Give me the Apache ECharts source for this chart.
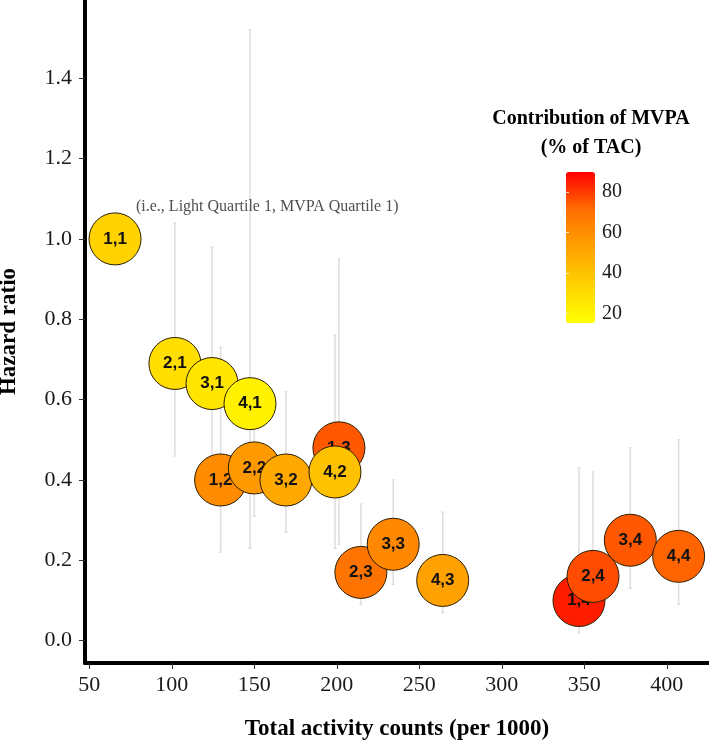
<!DOCTYPE html>
<html>
<head>
<meta charset="utf-8">
<script src="https://cdn.jsdelivr.net/npm/echarts@6/dist/echarts.min.js"></script>
<style>
html, body { margin: 0; padding: 0; background: #fff; }
#chart { width: 709px; height: 742px; }
</style>
</head>
<body>
<div id="chart"></div>
<script>
"use strict";

// drawing order: light quartile first, then MVPA quartile (later ones sit on top)
var labels = ['1,1', '1,2', '1,3', '1,4', '2,1', '2,2', '2,3', '2,4',
              '3,1', '3,2', '3,3', '3,4', '4,1', '4,2', '4,3', '4,4'];
var tac = [65.6, 129.6, 201.3, 346.8, 101.9, 150.0, 214.6, 355.3,
           124.4, 169.2, 234.2, 377.9, 147.4, 198.9, 264.2, 407.2];
var hazard = [1.00, 0.40, 0.48, 0.10, 0.69, 0.43, 0.17, 0.16,
              0.64, 0.40, 0.24, 0.25, 0.59, 0.42, 0.15, 0.21];
var lower = [null, 0.22, 0.24, 0.02, 0.46, 0.31, 0.09, 0.06,
             0.42, 0.27, 0.14, 0.13, 0.23, 0.23, 0.07, 0.09];
var upper = [null, 0.73, 0.95, 0.43, 1.04, 0.60, 0.34, 0.42,
             0.98, 0.62, 0.40, 0.48, 1.52, 0.76, 0.32, 0.50];
var mvpa = [34, 61, 75, 85, 29, 56, 69, 77,
            26, 50, 62, 75, 21, 40, 53, 73];

var xTicks = [50, 100, 150, 200, 250, 300, 350, 400];
var yTicks = [0, 0.2, 0.4, 0.6, 0.8, 1.0, 1.2, 1.4];
var colorTicks = [20, 40, 60, 80];
var colorRange = [15.2, 90];

var noteText = '(i.e., Light Quartile 1, MVPA Quartile 1)';
var notePos = [78.3, 1.08];

var serif = '"Liberation Serif", "Times New Roman", serif';
var bubbleSize = 52;

var chart = echarts.init(document.getElementById('chart'));

var bubbleData = [];
var errData = [];
for (var i = 0; i < labels.length; i++) {
    bubbleData.push([tac[i], hazard[i], mvpa[i]]);
    if (lower[i] !== null) {
        errData.push([tac[i], lower[i], upper[i]]);
    }
}

function renderErrorBar(params, api) {
    var lo = api.coord([api.value(0), api.value(1)]);
    var hi = api.coord([api.value(0), api.value(2)]);
    var st = { stroke: '#dedede', lineWidth: 1.5 };
    return {
        type: 'group',
        children: [
            { type: 'line', shape: { x1: lo[0], y1: lo[1], x2: hi[0], y2: hi[1] }, style: st },
            { type: 'line', shape: { x1: lo[0] - 1.5, y1: lo[1], x2: lo[0] + 1.5, y2: lo[1] }, style: st },
            { type: 'line', shape: { x1: hi[0] - 1.5, y1: hi[1], x2: hi[0] + 1.5, y2: hi[1] }, style: st }
        ]
    };
}

function renderBubble(params, api) {
    var p = api.coord([api.value(0), api.value(1)]);
    var k = params.dataIndex;
    return {
        type: 'group',
        children: [{
            type: 'circle',
            z2: k * 2,
            shape: { cx: p[0], cy: p[1], r: bubbleSize / 2 },
            style: { fill: api.visual('color'), stroke: '#2b1d00', lineWidth: 1 }
        }, {
            type: 'text',
            z2: k * 2 + 1,
            x: p[0],
            y: p[1],
            style: {
                text: labels[k],
                font: 'bold 17px "Liberation Sans", Arial, sans-serif',
                fill: '#111',
                align: 'center',
                verticalAlign: 'middle'
            }
        }]
    };
}

var option = {
    backgroundColor: '#fff',
    animation: false,
    grid: [
        { left: 85, right: 0, top: 0, bottom: 79, outerBoundsMode: 'none' },
        { left: 566, top: 172, width: 29, height: 151, outerBoundsMode: 'none' }
    ],
    xAxis: [{
        type: 'value',
        min: 47.4,
        max: 425.6,
        name: 'Total activity counts (per 1000)',
        nameLocation: 'middle',
        nameGap: 55,
        nameTextStyle: { fontFamily: serif, fontWeight: 'bold', fontSize: 23, color: '#000' },
        axisLine: { onZero: false, lineStyle: { color: '#000', width: 4 } },
        axisTick: { show: true, length: 6, customValues: xTicks, lineStyle: { color: '#333' } },
        axisLabel: { customValues: xTicks, fontFamily: serif, fontSize: 22, color: '#1a1a1a', margin: 11 },
        splitLine: { show: false }
    }, {
        gridIndex: 1,
        type: 'value',
        show: false
    }],
    yAxis: [{
        type: 'value',
        min: -0.0555,
        max: 1.5946,
        name: 'Hazard ratio',
        nameLocation: 'middle',
        nameGap: 64,
        nameTextStyle: { fontFamily: serif, fontWeight: 'bold', fontSize: 23, color: '#000' },
        axisLine: { onZero: false, lineStyle: { color: '#000', width: 4 } },
        axisTick: { show: true, length: 6, customValues: yTicks, lineStyle: { color: '#333' } },
        axisLabel: {
            customValues: yTicks,
            fontFamily: serif, fontSize: 22, color: '#1a1a1a', margin: 13,
            formatter: function (v) { return v.toFixed(1); }
        },
        splitLine: { show: false }
    }, {
        gridIndex: 1,
        type: 'value',
        position: 'right',
        offset: -3,
        z: 10,
        min: colorRange[0],
        max: colorRange[1],
        axisLine: { show: false },
        axisTick: {
            show: true, inside: true, length: 23, customValues: colorTicks,
            lineStyle: { color: 'rgba(255,255,255,0.75)', width: 1 }
        },
        axisLabel: { customValues: colorTicks, fontFamily: serif, fontSize: 20, color: '#1a1a1a', margin: 10 },
        splitLine: { show: false }
    }],
    visualMap: {
        type: 'continuous',
        seriesIndex: 1,
        dimension: 2,
        min: colorRange[0],
        max: colorRange[1],
        calculable: false,
        left: 566,
        top: 172,
        padding: 0,
        itemWidth: 29,
        itemHeight: 151,
        text: null,
        inRange: { color: ['#ffff00', '#ffd200', '#ffa200', '#ff6e00', '#ff0000'] }
    },
    graphic: [{
        type: 'text',
        x: 591,
        y: 104,
        style: {
            text: 'Contribution of MVPA\n(% of TAC)',
            font: 'bold 20px ' + serif,
            fill: '#000',
            align: 'center',
            verticalAlign: 'top',
            lineHeight: 29
        }
    }],
    series: [{
        type: 'custom',
        name: 'ci',
        renderItem: renderErrorBar,
        encode: { x: 0, y: [1, 2] },
        data: errData,
        z: 1
    }, {
        type: 'custom',
        name: 'bubbles',
        renderItem: renderBubble,
        encode: { x: 0, y: 1 },
        data: bubbleData,
        z: 2
    }, {
        type: 'scatter',
        name: 'note',
        symbolSize: 0,
        data: [notePos],
        silent: true,
        label: {
            show: true,
            position: 'right',
            distance: 0,
            formatter: noteText,
            fontFamily: serif,
            fontSize: 16,
            color: '#222'
        },
        z: 3
    }]
};

chart.setOption(option);
</script>
</body>
</html>
